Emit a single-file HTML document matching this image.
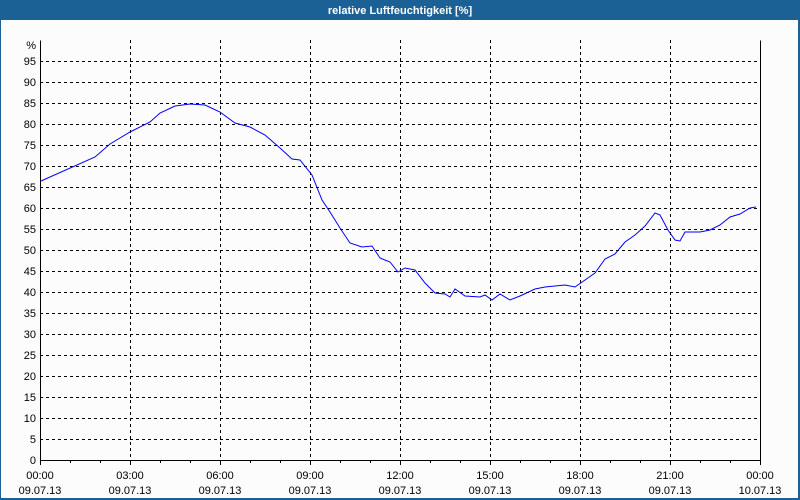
<!DOCTYPE html>
<html><head><style>
html,body{margin:0;padding:0;width:800px;height:500px;overflow:hidden;background:#fff}
svg{display:block}
text{font-family:"Liberation Sans",sans-serif;font-size:11px;fill:#000}
</style></head><body>
<svg width="800" height="500" viewBox="0 0 800 500" xmlns="http://www.w3.org/2000/svg">
<rect x="0" y="0" width="800" height="500" fill="#1c6196"/>
<rect x="1" y="20" width="797" height="478" fill="#fcfcfc"/>
<text x="400" y="14" text-anchor="middle" style="font-weight:bold;fill:#fff;font-size:11px">relative Luftfeuchtigkeit [%]</text>
<g stroke="#000" stroke-width="1" stroke-dasharray="3,3" shape-rendering="crispEdges">
<line x1="40" x2="760" y1="61.5" y2="61.5"/><line x1="40" x2="760" y1="82.5" y2="82.5"/><line x1="40" x2="760" y1="103.5" y2="103.5"/><line x1="40" x2="760" y1="124.5" y2="124.5"/><line x1="40" x2="760" y1="145.5" y2="145.5"/><line x1="40" x2="760" y1="166.5" y2="166.5"/><line x1="40" x2="760" y1="187.5" y2="187.5"/><line x1="40" x2="760" y1="208.5" y2="208.5"/><line x1="40" x2="760" y1="229.5" y2="229.5"/><line x1="40" x2="760" y1="250.5" y2="250.5"/><line x1="40" x2="760" y1="271.5" y2="271.5"/><line x1="40" x2="760" y1="292.5" y2="292.5"/><line x1="40" x2="760" y1="313.5" y2="313.5"/><line x1="40" x2="760" y1="334.5" y2="334.5"/><line x1="40" x2="760" y1="355.5" y2="355.5"/><line x1="40" x2="760" y1="376.5" y2="376.5"/><line x1="40" x2="760" y1="397.5" y2="397.5"/><line x1="40" x2="760" y1="418.5" y2="418.5"/><line x1="40" x2="760" y1="439.5" y2="439.5"/>
<line x1="130.5" x2="130.5" y1="40" y2="460"/><line x1="220.5" x2="220.5" y1="40" y2="460"/><line x1="310.5" x2="310.5" y1="40" y2="460"/><line x1="400.5" x2="400.5" y1="40" y2="460"/><line x1="490.5" x2="490.5" y1="40" y2="460"/><line x1="580.5" x2="580.5" y1="40" y2="460"/><line x1="670.5" x2="670.5" y1="40" y2="460"/>
</g>
<g stroke="#000" stroke-width="1" shape-rendering="crispEdges" fill="none">
<polyline points="40.5,40.5 40.5,460.5 760.5,460.5 760.5,40.5"/>
<line x1="40.5" x2="40.5" y1="460" y2="465"/><line x1="70.5" x2="70.5" y1="460" y2="463"/><line x1="100.5" x2="100.5" y1="460" y2="463"/><line x1="130.5" x2="130.5" y1="460" y2="465"/><line x1="160.5" x2="160.5" y1="460" y2="463"/><line x1="190.5" x2="190.5" y1="460" y2="463"/><line x1="220.5" x2="220.5" y1="460" y2="465"/><line x1="250.5" x2="250.5" y1="460" y2="463"/><line x1="280.5" x2="280.5" y1="460" y2="463"/><line x1="310.5" x2="310.5" y1="460" y2="465"/><line x1="340.5" x2="340.5" y1="460" y2="463"/><line x1="370.5" x2="370.5" y1="460" y2="463"/><line x1="400.5" x2="400.5" y1="460" y2="465"/><line x1="430.5" x2="430.5" y1="460" y2="463"/><line x1="460.5" x2="460.5" y1="460" y2="463"/><line x1="490.5" x2="490.5" y1="460" y2="465"/><line x1="520.5" x2="520.5" y1="460" y2="463"/><line x1="550.5" x2="550.5" y1="460" y2="463"/><line x1="580.5" x2="580.5" y1="460" y2="465"/><line x1="610.5" x2="610.5" y1="460" y2="463"/><line x1="640.5" x2="640.5" y1="460" y2="463"/><line x1="670.5" x2="670.5" y1="460" y2="465"/><line x1="700.5" x2="700.5" y1="460" y2="463"/><line x1="730.5" x2="730.5" y1="460" y2="463"/><line x1="760.5" x2="760.5" y1="460" y2="465"/>
</g>
<g text-anchor="end">
<text x="36" y="49">%</text>
<text x="36" y="65">95</text><text x="36" y="86">90</text><text x="36" y="107">85</text><text x="36" y="128">80</text><text x="36" y="149">75</text><text x="36" y="170">70</text><text x="36" y="191">65</text><text x="36" y="212">60</text><text x="36" y="233">55</text><text x="36" y="254">50</text><text x="36" y="275">45</text><text x="36" y="296">40</text><text x="36" y="317">35</text><text x="36" y="338">30</text><text x="36" y="359">25</text><text x="36" y="380">20</text><text x="36" y="401">15</text><text x="36" y="422">10</text><text x="36" y="443">5</text><text x="36" y="464">0</text>
</g>
<g text-anchor="middle">
<text x="40" y="479">00:00</text><text x="40" y="494">09.07.13</text>
<text x="130" y="479">03:00</text><text x="130" y="494">09.07.13</text>
<text x="220" y="479">06:00</text><text x="220" y="494">09.07.13</text>
<text x="310" y="479">09:00</text><text x="310" y="494">09.07.13</text>
<text x="400" y="479">12:00</text><text x="400" y="494">09.07.13</text>
<text x="490" y="479">15:00</text><text x="490" y="494">09.07.13</text>
<text x="580" y="479">18:00</text><text x="580" y="494">09.07.13</text>
<text x="670" y="479">21:00</text><text x="670" y="494">09.07.13</text>
<text x="760" y="479">00:00</text><text x="760" y="494">10.07.13</text>
</g>
<polyline fill="none" stroke="#0000ff" stroke-width="1" points="41,181 95,157 110,144 130,132 150,122 160,113 175,106 190,104 205,105 220,112 235,123 250,127 265,135 280,148 292,159 300,160 312,175 322,200 330,212 340,228 350,243 362,247 372,246 380,258 390,262 398,272 405,268 415,270 425,283 435,293 445,294 450,297 455,289 465,296 480,297 485,295 492,300 500,294 510,300 520,296 535,289 545,287 555,286 565,285 575,287 585,280 595,273 605,259 615,254 625,242 635,235 645,226 655,213 660,215 668,230 675,240 680,241 685,232 700,232 710,230 720,225 730,217 740,214 750,208 756,207"/>
</svg>
</body></html>
